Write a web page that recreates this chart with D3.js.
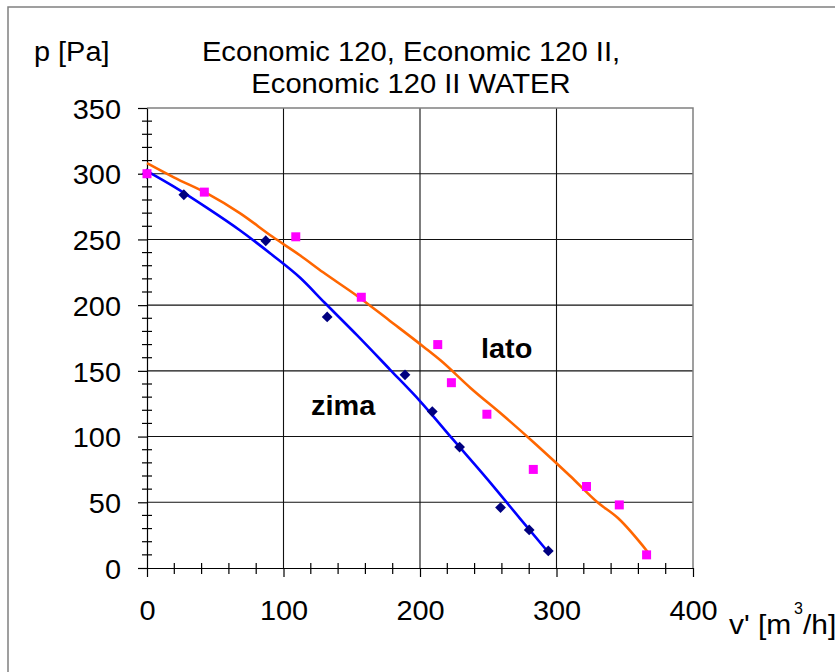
<!DOCTYPE html>
<html>
<head>
<meta charset="utf-8">
<script src="https://cdn.jsdelivr.net/npm/d3@7"></script>
<style>
  body { margin: 0; background: #fff; }
  svg text { font-family: Arial, "Liberation Sans", sans-serif; fill: #000; }
</style>
</head>
<body>
<svg id="chart" width="835" height="672"></svg>
<script>
// Chart data
const xTicks = [0, 100, 200, 300, 400]
const yTicks = [0, 50, 100, 150, 200, 250, 300, 350]
const xMinor = [20, 40, 60, 80, 120, 140, 160, 180, 220, 240, 260, 280, 320, 340, 360, 380]
const yMinor = [10, 20, 30, 40, 60, 70, 80, 90, 110, 120, 130, 140, 160, 170, 180, 190,
  210, 220, 230, 240, 260, 270, 280, 290, 310, 320, 330, 340]

// winter (zima) measurements - navy diamonds
const zimaX = [0, 27, 87, 132, 189, 209, 229, 259, 280, 294]
const zimaY = [300, 284, 249, 191, 147, 119, 92, 46, 29, 13]
// summer (lato) measurements - magenta squares
const latoX = [0, 42, 109, 157, 213, 223, 249, 283, 322, 346, 366]
const latoY = [300, 286, 252, 206, 170, 141, 117, 75, 62, 48, 10]

// trend lines
const zimaFitX = [0, 20, 44, 68, 92, 112, 130, 154, 178, 200, 224, 249, 273, 294]
const zimaFitY = [302, 290, 274, 257, 238, 221, 202, 177, 151, 127, 98, 68, 38, 12]
const latoFitX = [0, 20, 44, 68, 92, 112, 129, 154, 178, 203, 215, 237, 261, 285, 310, 330, 345, 367]
const latoFitY = [308, 297, 285, 270, 252, 238, 225, 207, 188, 168, 158, 137, 116, 94, 70, 50, 38, 12]

const titleLines = ['Economic 120, Economic 120 II,', 'Economic 120 II WATER']

const svg = d3.select('#chart')
const x = d3.scaleLinear().domain([0, 400]).range([147, 693])
const y = d3.scaleLinear().domain([0, 350]).range([568, 108])

// Text in the picture is a bit wider than plain Arial
function stretch (sel, k) {
  sel.each(function () {
    const w = this.getComputedTextLength()
    d3.select(this).attr('textLength', w * k).attr('lengthAdjust', 'spacingAndGlyphs')
  })
}

// outer frame
svg.append('rect')
  .attr('x', 8).attr('y', 7).attr('width', 1000).attr('height', 1000)
  .attr('fill', 'none').attr('stroke', '#808080').attr('stroke-width', 1.5)

// grid lines
const grid = svg.append('g')
grid.selectAll('.gx').data(xTicks.slice(1, -1)).join('line')
  .attr('x1', d => x(d)).attr('x2', d => x(d))
  .attr('y1', y(0)).attr('y2', y(350))
  .attr('stroke', '#111').attr('stroke-width', 1.1)
grid.selectAll('.gy').data(yTicks.slice(1, -1)).join('line')
  .attr('x1', x(0)).attr('x2', x(400))
  .attr('y1', d => y(d)).attr('y2', d => y(d))
  .attr('stroke', '#111').attr('stroke-width', 1.1)
// top and right plot border in grey
svg.append('path')
  .attr('d', `M${x(0)},${y(350)}H${x(400)}V${y(0)}`)
  .attr('fill', 'none').attr('stroke', '#808080').attr('stroke-width', 1.5)

// axes
const yAxis = svg.append('g')
  .attr('transform', `translate(${x(0)},0)`)
  .call(d3.axisLeft(y).tickValues(yTicks).tickSize(9).tickPadding(17).tickSizeOuter(0))
const xAxis = svg.append('g')
  .attr('transform', `translate(0,${y(0)})`)
  .call(d3.axisBottom(x).tickValues(xTicks).tickSize(9).tickPadding(24).tickSizeOuter(0))
svg.selectAll('.domain').attr('stroke', '#000').attr('stroke-width', 1.2)
svg.selectAll('.tick line').attr('stroke', '#000').attr('stroke-width', 1.2)
svg.selectAll('.tick text').style('font-size', '27px').style('font-family', 'Arial, "Liberation Sans", sans-serif')
yAxis.selectAll('.tick text').attr('dy', '0.38em')

// minor ticks crossing the axes
svg.append('g').selectAll('line').data(yMinor).join('line')
  .attr('x1', x(0) - 5).attr('x2', x(0) + 5)
  .attr('y1', d => y(d)).attr('y2', d => y(d))
  .attr('stroke', '#000').attr('stroke-width', 1.2)
svg.append('g').selectAll('line').data(xMinor).join('line')
  .attr('x1', d => x(d)).attr('x2', d => x(d))
  .attr('y1', y(0) - 5).attr('y2', y(0) + 6)
  .attr('stroke', '#000').attr('stroke-width', 1.2)

// trend lines
const line = d3.line().curve(d3.curveMonotoneX).x(d => x(d[0])).y(d => y(d[1]))
svg.append('path')
  .datum(latoFitX.map((v, i) => [v, latoFitY[i]]))
  .attr('d', line).attr('fill', 'none')
  .attr('stroke', '#FF6600').attr('stroke-width', 2.6).attr('stroke-linejoin', 'round')
svg.append('path')
  .datum(zimaFitX.map((v, i) => [v, zimaFitY[i]]))
  .attr('d', line).attr('fill', 'none')
  .attr('stroke', '#0000FF').attr('stroke-width', 2.6).attr('stroke-linejoin', 'round')

// markers
const square = d3.symbol().type(d3.symbolSquare)
svg.append('g').selectAll('path').data(zimaX).join('path')
  .attr('d', square.size(58))
  .attr('transform', (d, i) => `translate(${x(d)},${y(zimaY[i])}) rotate(45)`)
  .attr('fill', '#000080')
svg.append('g').selectAll('path').data(latoX).join('path')
  .attr('d', square.size(81))
  .attr('transform', (d, i) => `translate(${x(d)},${y(latoY[i])})`)
  .attr('fill', '#FF00FF')

// titles and labels
const title = svg.append('g')
title.selectAll('text').data(titleLines).join('text')
  .attr('x', 411).attr('y', (d, i) => 61 + i * 32)
  .attr('text-anchor', 'middle')
  .style('font-size', '27px')
  .text(d => d)
svg.append('text').attr('class', 'lbl')
  .attr('x', 34).attr('y', 61).style('font-size', '27px').text('p [Pa]')
svg.append('text').attr('class', 'lbl')
  .attr('x', 481).attr('y', 358).style('font-size', '27px').style('font-weight', 'bold').text('lato')
svg.append('text').attr('class', 'lbl')
  .attr('x', 311).attr('y', 415).style('font-size', '27px').style('font-weight', 'bold').text('zima')

// axis unit with a superscript, placed piece by piece
const xLabel = svg.append('g').style('font-size', '28px')
xLabel.append('text').attr('class', 'lbl').attr('x', 729).attr('y', 634).text("v' [m")
xLabel.append('text').attr('x', 794).attr('y', 614).style('font-size', '16px').text('3')
xLabel.append('text').attr('class', 'lbl').attr('x', 803).attr('y', 634).text('/h]')

stretch(svg.selectAll('.tick text'), 1.07)
stretch(title.selectAll('text'), 1.08)
stretch(svg.selectAll('.lbl'), 1.07)
</script>
</body>
</html>
